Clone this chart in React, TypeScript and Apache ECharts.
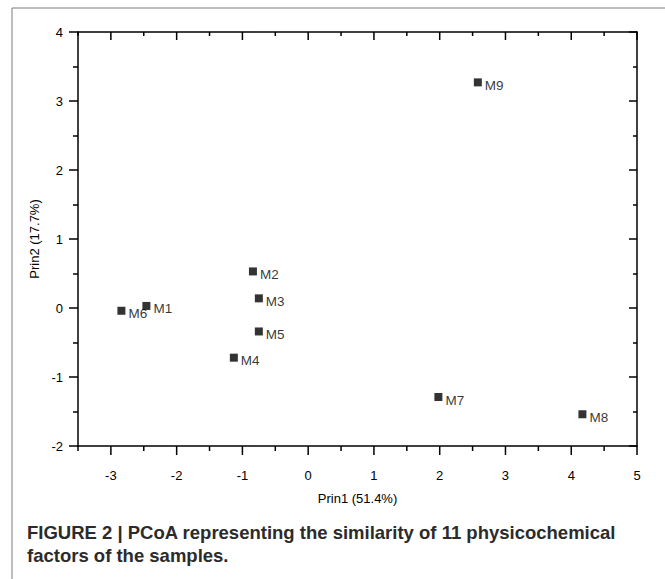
import React, { useEffect, useRef } from "react";
import * as echarts from "echarts";

// ---- data ----
const SAMPLE_NAMES = ["M1", "M2", "M3", "M4", "M5", "M6", "M7", "M8", "M9"];
const PRIN1 = [-2.46, -0.84, -0.75, -1.13, -0.75, -2.84, 1.98, 4.17, 2.58];
const PRIN2 = [0.03, 0.53, 0.14, -0.72, -0.34, -0.04, -1.29, -1.54, 3.27];

const X_MIN = -3.5;
const X_MAX = 5;
const Y_MIN = -2;
const Y_MAX = 4;
const X_MAJOR_TICKS = [-3, -2, -1, 0, 1, 2, 3, 4, 5];
const X_MINOR_TICKS = [-3.5, -2.5, -1.5, -0.5, 0.5, 1.5, 2.5, 3.5, 4.5];

const X_TITLE = "Prin1 (51.4%)";
const Y_TITLE = "Prin2 (17.7%)";
const CAPTION_1 = "FIGURE 2 | PCoA representing the similarity of 11 physicochemical";
const CAPTION_2 = "factors of the samples.";

const FONT = '"Liberation Sans", Arial, Helvetica, sans-serif';

export default function App() {
  const ref = useRef<HTMLDivElement>(null);

  useEffect(() => {
    if (!ref.current) return;
    const chart = echarts.init(ref.current, undefined, { renderer: "svg" });

    const tickData = [
      ...X_MAJOR_TICKS.map((v) => [v, 1]),
      ...X_MINOR_TICKS.map((v) => [v, 0]),
    ];

    const axisLine = { show: true, onZero: false, lineStyle: { color: "#000", width: 1.5 } };

    const option: any = {
      animation: false,
      backgroundColor: "#fff",
      grid: { left: 78, top: 32, right: 28, bottom: 133, containLabel: false },
      xAxis: [
        {
          type: "value",
          position: "bottom",
          min: X_MIN,
          max: X_MAX,
          interval: 0.5,
          axisLine,
          axisTick: { show: false },
          splitLine: { show: false },
          axisLabel: {
            margin: 23,
            fontSize: 13,
            color: "#000",
            fontFamily: FONT,
            formatter: (v: number) => (Number.isInteger(v) ? String(v) : ""),
          },
          name: X_TITLE,
          nameLocation: "middle",
          nameGap: 46,
          nameTextStyle: { fontSize: 13, color: "#000", fontFamily: FONT },
        },
        {
          type: "value",
          position: "top",
          min: X_MIN,
          max: X_MAX,
          interval: 0.5,
          axisLine,
          axisTick: { show: false },
          splitLine: { show: false },
          axisLabel: { show: false },
        },
      ],
      yAxis: [
        {
          type: "value",
          position: "left",
          min: Y_MIN,
          max: Y_MAX,
          interval: 1,
          axisLine,
          axisTick: { show: true, length: 9, lineStyle: { color: "#000", width: 1.5 } },
          minorTick: { show: true, splitNumber: 2, length: 5, lineStyle: { color: "#000", width: 1.5 } },
          splitLine: { show: false },
          axisLabel: { margin: 15, fontSize: 13, color: "#000", fontFamily: FONT },
          name: Y_TITLE,
          nameLocation: "middle",
          nameGap: 28,
          nameRotate: 90,
          nameTextStyle: { fontSize: 13, color: "#000", fontFamily: FONT },
        },
        {
          type: "value",
          position: "right",
          min: Y_MIN,
          max: Y_MAX,
          interval: 1,
          axisLine,
          axisTick: { show: true, inside: true, length: 8, lineStyle: { color: "#000", width: 1.5 } },
          minorTick: { show: true, splitNumber: 2, length: 4, lineStyle: { color: "#000", width: 1.5 } },
          splitLine: { show: false },
          axisLabel: { show: false },
        },
      ],
      series: [
        {
          type: "custom",
          xAxisIndex: 0,
          yAxisIndex: 0,
          silent: true,
          clip: false,
          z: 5,
          data: tickData,
          renderItem: (params: any, api: any) => {
            const x = api.value(0);
            const major = api.value(1) === 1;
            const b = api.coord([x, Y_MIN]);
            const t = api.coord([x, Y_MAX]);
            const style = { stroke: "#000", lineWidth: 1.5 };
            return {
              type: "group",
              children: [
                { type: "line", shape: { x1: b[0], y1: b[1], x2: b[0], y2: b[1] + (major ? 9 : 5) }, style },
                { type: "line", shape: { x1: t[0], y1: t[1], x2: t[0], y2: t[1] + (major ? 8 : 4) }, style },
              ],
            };
          },
        },
        {
          type: "scatter",
          xAxisIndex: 0,
          yAxisIndex: 0,
          symbol: "rect",
          symbolSize: 8,
          itemStyle: { color: "#000" },
          z: 10,
          label: {
            show: true,
            position: "right",
            distance: 3,
            offset: [0, 3],
            formatter: "{b}",
            fontSize: 13.5,
            color: "#000",
            fontFamily: FONT,
          },
          data: SAMPLE_NAMES.map((n, i) => ({ name: n, value: [PRIN1[i], PRIN2[i]] })),
        },
      ],
      graphic: [
        {
          type: "rect",
          silent: true,
          shape: { x: 12, y: 8, width: 800, height: 800 },
          style: { fill: "none", stroke: "#7a7a7a", lineWidth: 1 },
        },
        {
          type: "text",
          x: 27,
          y: 532,
          style: {
            text: CAPTION_1,
            fontSize: 18.5,
            fontWeight: "bold",
            fontFamily: FONT,
            fill: "#2b2b2b",
            textVerticalAlign: "middle",
          },
        },
        {
          type: "text",
          x: 27,
          y: 555,
          style: {
            text: CAPTION_2,
            fontSize: 18.5,
            fontWeight: "bold",
            fontFamily: FONT,
            fill: "#2b2b2b",
            textVerticalAlign: "middle",
          },
        },
      ],
    };

    chart.setOption(option);
    return () => chart.dispose();
  }, []);

  return (
    <div
      ref={ref}
      style={{ position: "fixed", left: 0, top: 0, width: 665, height: 579, background: "#fff" }}
    />
  );
}
